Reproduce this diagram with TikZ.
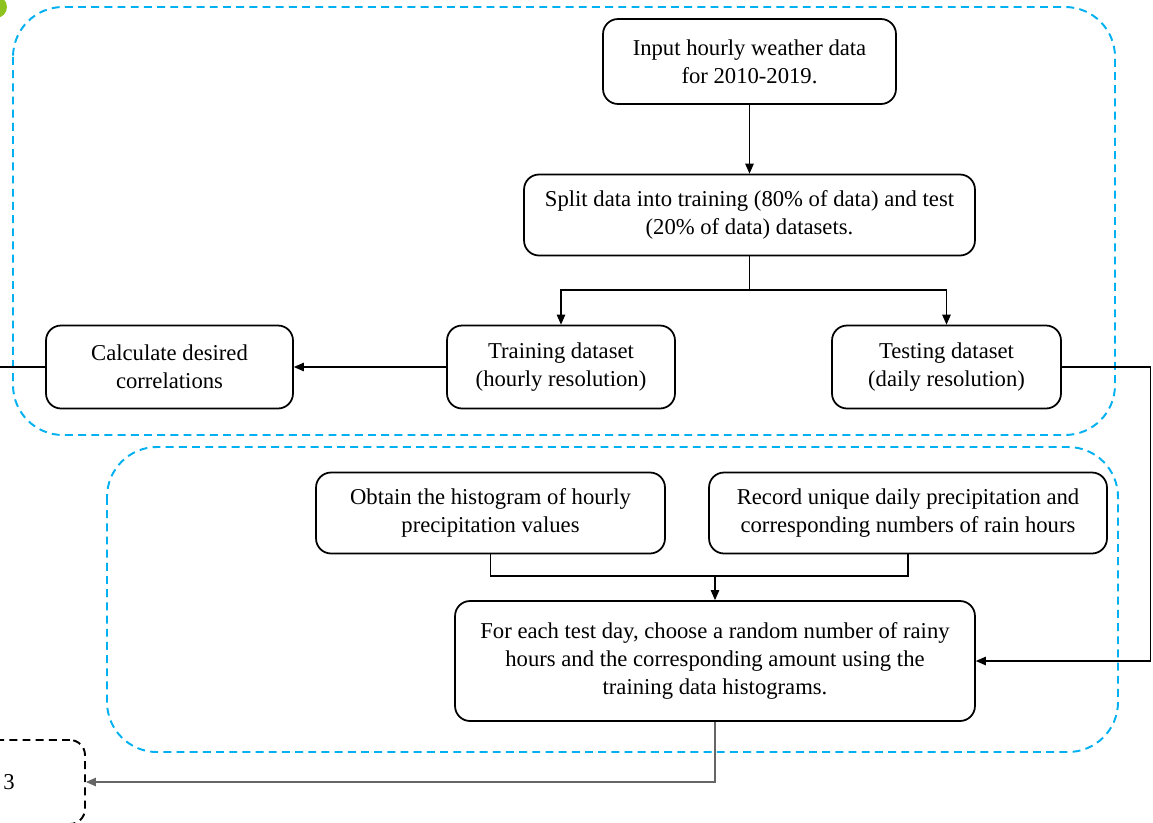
\documentclass[tikz,border=0pt]{standalone}
\usepackage{fontspec}
\setmainfont{Liberation Serif}
\usepackage{tikz}
\usetikzlibrary{positioning,arrows.meta,calc}
\usepackage{xcolor}
\definecolor{groupblue}{HTML}{00B0F0}
\definecolor{markgreen}{HTML}{8DC21F}

\tikzset{
  stepbox/.style={draw=black, line width=1pt, rounded corners=0.3cm, align=center,
    font=\fontsize{12.9}{15.8}\selectfont, inner sep=2pt},
  groupbox/.style={draw=groupblue, line width=1.1pt, dash pattern=on 4.5pt off 3pt, rounded corners=1cm},
  flow/.style={line width=0.6pt, -{Triangle[length=2mm,width=1.7mm]}},
}

\begin{document}
\begin{tikzpicture}[x=0.02cm, y=-0.02cm]
    \useasboundingbox (0,0) rectangle (1153,822);
    % groups
    \draw[groupbox] (13,7) rectangle (1115,435);
    \draw[groupbox] (107,447) rectangle (1118,752);
    \fill[markgreen] (-4,7) circle (11);
    % steps
    \node[stepbox, minimum width=5.86cm, minimum height=1.70cm] (input) at (749.5,61.5) {Input hourly weather data\\for 2010-2019.};
    \node[stepbox, minimum width=9.02cm, minimum height=1.62cm] (split) at (749.5,215) {Split data into training (80\% of data) and test\\(20\% of data) datasets.};
    \node[stepbox, minimum width=4.94cm, minimum height=1.66cm] (corr) at (169.5,367) {Calculate desired\\correlations};
    \node[stepbox, minimum width=4.56cm, minimum height=1.66cm] (train) at (561,367) {Training dataset\\(hourly resolution)};
    \node[stepbox, minimum width=4.58cm, minimum height=1.66cm] (test) at (946.5,367) {Testing dataset\\(daily resolution)};
    \node[stepbox, minimum width=6.98cm, minimum height=1.62cm] (hist) at (490.5,513) {Obtain the histogram of hourly\\precipitation values};
    \node[stepbox, minimum width=7.96cm, minimum height=1.62cm] (rec) at (908,513) {Record unique daily precipitation and\\corresponding numbers of rain hours};
    \node[stepbox, minimum width=10.40cm, minimum height=2.40cm] (each) at (715,661) {For each test day, choose a random number of rainy\\hours and the corresponding amount using the\\training data histograms.};
    \node[stepbox, draw=black, dash pattern=on 4.5pt off 3pt, line width=1.1pt, minimum width=3.04cm, minimum height=1.68cm] (next) at (9,782) {3};
    % joints
    \coordinate (fork) at (749.5,290);
    \coordinate (join) at (715,576);
    \coordinate (offleft) at (0,367);
    % connectors
    \draw[flow] (input) -- (split);
    \draw[line width=0.6pt] (split) -- (fork);
    \draw[flow] (fork) -| (train);
    \draw[flow] (fork) -| (test);
    \draw[flow] (train) -- (corr);
    \draw[line width=0.6pt] (corr) -- (offleft);
    \draw[flow] (test.east) -- ++(89,0) |- (each.east);
    \draw[line width=0.6pt] (hist.south) |- (join) -| (rec.south);
    \draw[flow] (join) -- (each);
    \draw[flow, draw=black!60] (each.south) |- (next.east);
\end{tikzpicture}
\end{document}
